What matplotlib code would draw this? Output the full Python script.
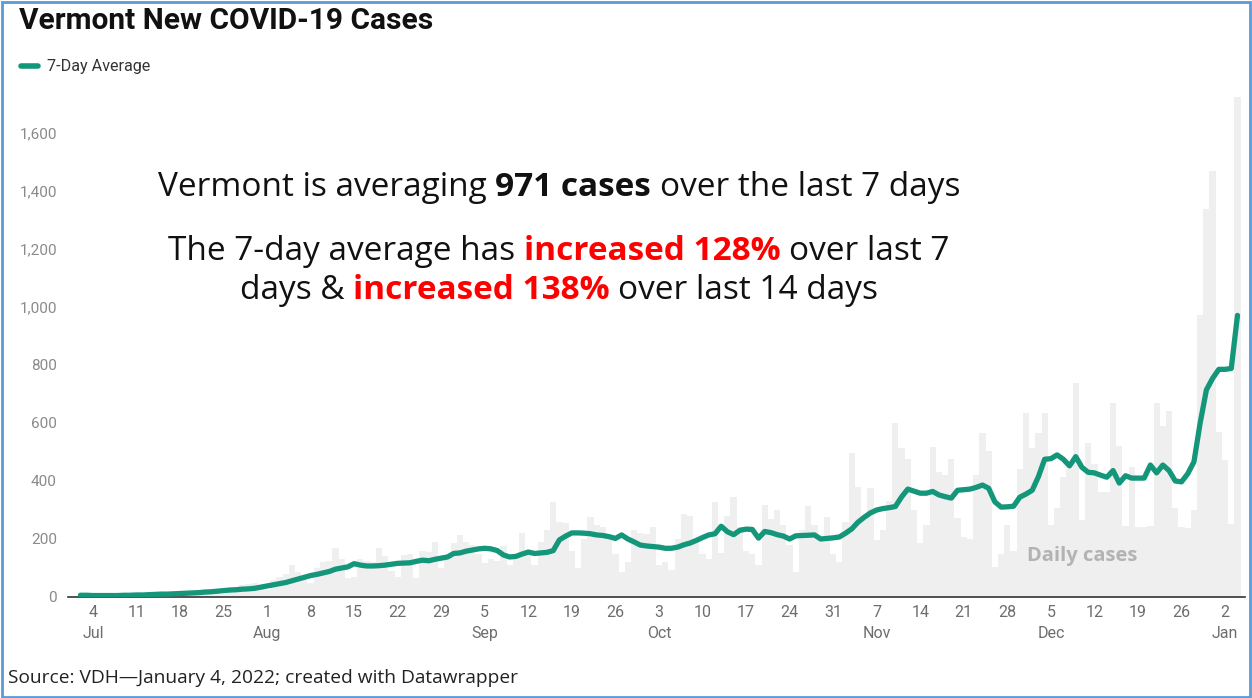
import matplotlib
matplotlib.use("Agg")
import matplotlib.pyplot as plt
import pandas as pd

# daily new cases, Jul 2 2021 - Jan 4 2022
jul_cases = [5, 3, 2, 4, 8, 6, 5, 7, 4, 3, 9, 10, 12, 8, 11, 6, 5, 14, 15,
             18, 22, 20, 15, 10, 30, 35, 40, 45, 50, 30]
aug_cases = [25, 60, 70, 80, 110, 85, 70, 50, 100, 120, 125, 170, 130, 65, 70, 130,
             125, 120, 170, 140, 90, 70, 145, 150, 65, 160, 155, 190, 100, 140, 185]
sep_cases = [213, 190, 180, 150, 117, 130, 124, 175, 110, 150, 220, 160, 110, 190, 230,
             328, 260, 255, 160, 100, 200, 276, 250, 240, 200, 150, 86, 120, 230, 220]
oct_cases = [218, 240, 110, 120, 93, 200, 286, 280, 200, 150, 130, 328, 151, 280, 345, 240,
             160, 150, 110, 317, 270, 300, 250, 180, 86, 230, 315, 250, 200, 275, 150]
nov_cases = [120, 260, 497, 380, 265, 375, 197, 230, 330, 600, 513, 475, 300, 186, 250,
             517, 430, 420, 476, 272, 207, 200, 420, 565, 505, 103, 150, 250, 160, 440]
dec_cases = [634, 513, 565, 634, 248, 306, 415, 443, 738, 265, 531, 460, 362, 362, 668, 520,
             245, 449, 242, 240, 245, 668, 590, 640, 307, 240, 237, 300, 972, 1338, 1469]
jan_cases = [569, 472, 252, 1724]

# 7-day average as drawn
jul_avg = [6, 6, 5, 5, 5, 5, 5, 6, 6, 7, 7, 8, 9, 10, 10, 11, 12, 13, 14,
           15, 17, 18, 20, 22, 24, 25, 27, 28, 30, 34]
aug_avg = [38, 42, 46, 50, 56, 62, 68, 74, 78, 83, 88, 96, 100, 104, 115, 110, 107, 107,
           108, 110, 113, 116, 117, 118, 123, 127, 125, 130, 134, 138, 150]
sep_avg = [152, 158, 162, 166, 168, 166, 160, 145, 138, 140, 148, 155, 150, 152, 154,
           160, 197, 210, 221, 221, 220, 218, 214, 212, 208, 202, 214, 200, 190, 179]
oct_avg = [176, 174, 172, 168, 168, 172, 180, 186, 195, 205, 214, 218, 244, 225, 215, 230,
           234, 233, 203, 226, 222, 215, 210, 200, 211, 212, 213, 214, 200, 202, 204]
nov_avg = [207, 220, 235, 258, 275, 290, 300, 305, 308, 312, 345, 372, 365, 358, 358,
           364, 352, 346, 341, 368, 370, 372, 378, 386, 375, 328, 310, 311, 313, 344]
dec_avg = [355, 368, 415, 475, 477, 490, 475, 452, 484, 447, 430, 428, 420, 413, 436, 393,
           418, 410, 410, 410, 455, 428, 455, 436, 400, 397, 425, 466, 600, 714, 754]
jan_avg = [785, 785, 788, 971]

daily = jul_cases + aug_cases + sep_cases + oct_cases + nov_cases + dec_cases + jan_cases
avg7 = jul_avg + aug_avg + sep_avg + oct_avg + nov_avg + dec_avg + jan_avg
dates = pd.date_range("2021-07-02", "2022-01-04")

ytick_vals = [0, 200, 400, 600, 800, 1000, 1200, 1400, 1600]
tick_dates = pd.date_range("2021-07-04", "2022-01-02", freq="7D")

GREEN = "#13967a"
TXT = "Open Sans"
plt.rcParams["font.family"] = ["Roboto", "DejaVu Sans"]

fig = plt.figure(figsize=(12.52, 6.98), dpi=100)
W, H = 1252, 698
ax = fig.add_axes([68 / W, 1 - 597 / H, (1245 - 68) / W, (597 - 89.5) / H])

ax.bar(dates, daily, width=1.0, color="#efefef", linewidth=0, zorder=1)
ax.plot(dates, avg7, color=GREEN, lw=3.8, solid_capstyle="round",
        solid_joinstyle="round", zorder=3)

ax.set_ylim(0, 1750)
ax.set_xlim(pd.Timestamp("2021-06-30"), pd.Timestamp("2022-01-05 05:00"))
for s in ["top", "right", "left"]:
    ax.spines[s].set_visible(False)
ax.spines["bottom"].set_color("#333333")
ax.spines["bottom"].set_linewidth(1.2)

ax.set_yticks(ytick_vals)
ax.set_yticklabels([f"{v:,}" for v in ytick_vals])
ax.tick_params(axis="y", length=0, pad=8, labelsize=11, labelcolor="#8a8a8a")

labels = []
for d in tick_dates:
    if d.day <= 7:
        labels.append(f"{d.day}\n{d.strftime('%b')}")
    else:
        labels.append(f"{d.day}")
ax.set_xticks(tick_dates)
ax.set_xticklabels(labels, linespacing=1.45)
ax.tick_params(axis="x", length=0, pad=6, labelsize=11.5, labelcolor="#6d6d6d")

ax.text(pd.Timestamp("2021-12-10"), 140, "Daily cases", ha="center", va="center",
        fontsize=14.5, fontweight="bold", color="#b3b3b3", family=TXT, zorder=2)

# title, legend, source
fig.text(19 / W, 1 - 21 / H, "Vermont New COVID-19 Cases", fontsize=21.5,
         fontweight="bold", va="center", ha="left", color="#111111")
fig.add_artist(plt.Line2D([21 / W, 38 / W], [1 - 66 / H, 1 - 66 / H], color=GREEN,
                          lw=4, solid_capstyle="round"))
fig.text(47 / W, 1 - 66 / H, "7-Day Average", fontsize=11.6, va="center",
         color="#333333")
fig.text(8 / W, 1 - 678 / H, "Source: VDH\u2014January 4, 2022; created with Datawrapper",
         fontsize=13.8, va="center", ha="left", color="#222222", family=TXT)


def rich_line(yc, xc, parts, size):
    r = fig.canvas.get_renderer()
    probe = fig.text(0, 0, "x x", fontsize=size, family=TXT)
    probe2 = fig.text(0, 0, "xx", fontsize=size, family=TXT)
    sp = probe.get_window_extent(r).width - probe2.get_window_extent(r).width
    probe.remove()
    probe2.remove()
    items = []
    for s, w, c in parts:
        t = fig.text(0, 1 - yc / H, s, fontsize=size, fontweight=w, color=c,
                     family=TXT, va="center", ha="left")
        items.append((t, t.get_window_extent(r).width))
    total = sum(wd for _, wd in items) + sp * (len(items) - 1)
    x = xc - total / 2
    for t, wd in items:
        t.set_x(x / W)
        x += wd + sp


BIG = 24
rich_line(187, 559, [("Vermont is averaging", "normal", "#111111"),
                     ("971 cases", "bold", "#111111"),
                     ("over the last 7 days", "normal", "#111111")], BIG)
rich_line(252, 559, [("The 7-day average has", "normal", "#111111"),
                     ("increased 128%", "bold", "#ff0000"),
                     ("over last 7", "normal", "#111111")], BIG)
rich_line(291, 559, [("days &", "normal", "#111111"),
                     ("increased 138%", "bold", "#ff0000"),
                     ("over last 14 days", "normal", "#111111")], BIG)

# frame around the graphic
fig.add_artist(plt.Rectangle((1.5 / W, 1.5 / H), 1 - 3.5 / W, 1 - 3.5 / H,
                             fill=False, edgecolor="#5b9bd5", lw=2,
                             transform=fig.transFigure))

fig.savefig("out.png", dpi=100)
